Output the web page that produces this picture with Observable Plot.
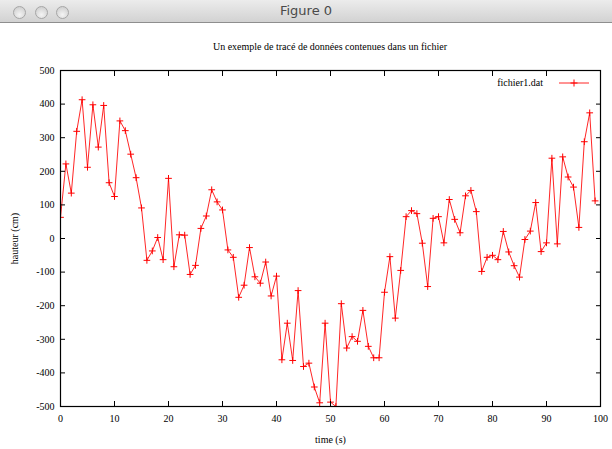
<!DOCTYPE html>
<html>
<head>
<meta charset="utf-8">
<script src="https://cdn.jsdelivr.net/npm/d3@7"></script>
<script src="https://cdn.jsdelivr.net/npm/@observablehq/plot@0.6"></script>
<style>
  html, body { margin: 0; padding: 0; background: #fff; }
  #page { position: relative; width: 612px; height: 449px; overflow: hidden; background: #fff; }
  #bar { position: absolute; left: 0; top: 0; width: 612px; height: 22px;
         background: linear-gradient(#ececec, #d2d2d2); border-bottom: 1px solid #8e8e8e; }
  #bar .btn { position: absolute; top: 6px; width: 13px; height: 13px; border-radius: 50%;
              background: radial-gradient(circle at 50% 70%, #f4f4f4, #c8c8c8); border: 1px solid #a6a6a6; box-sizing: border-box; }
  #bar .t { position: absolute; left: 0; width: 612px; top: 3px; text-align: center;
            font: 13px "DejaVu Sans", sans-serif; color: #4a4a4a; }
  #title { position: absolute; left: 60px; width: 540px; top: 41px; text-align: center;
           font: 10px "Liberation Serif", serif; color: #000; }
  #chart { position: absolute; left: 0; top: 24px; }
  #legend { position: absolute; top: 75px; left: 480px; width: 120px; height: 16px;
            font: 10px "Liberation Serif", serif; }
</style>
</head>
<body>
<div id="page">
  <div id="bar">
    <div class="btn" style="left:13px"></div>
    <div class="btn" style="left:35px"></div>
    <div class="btn" style="left:56px"></div>
    <div class="t">Figure 0</div>
  </div>
  <div id="title">Un exemple de tracé de données contenues dans un fichier</div>
  <div id="chart"></div>
  <div id="legend"></div>
</div>
<script>
const times = d3.range(0, 100);
const heights = [
  63, 222, 135, 319, 413, 212, 398, 272, 396, 166,
  125, 350, 321, 251, 181, 91, -65, -37, 3, -63,
  179, -84, 11, 10, -107, -80, 30, 67, 145, 109,
  85, -34, -56, -175, -139, -27, -114, -133, -70, -171,
  -112, -361, -252, -363, -155, -381, -371, -442, -489, -252,
  -487, -500, -194, -326, -292, -306, -214, -321, -355, -355,
  -160, -54, -237, -95, 65, 83, 74, -14, -143, 60,
  65, -13, 116, 57, 17, 127, 143, 80, -98, -56,
  -50, -63, 21, -40, -81, -115, -3, 22, 107, -39,
  -13, 239, -16, 243, 183, 153, 33, 288, 374, 112
];
const xTicks = [0, 10, 20, 30, 40, 50, 60, 70, 80, 90, 100];
const yTicks = [-500, -400, -300, -200, -100, 0, 100, 200, 300, 400, 500];
const seriesName = "fichier1.dat";
const xLabel = "time (s)";
const yLabel = "hauteur (cm)";

const data = times.map((t, i) => ({t, h: heights[i]}));
const red = "#ff0000";

const chart = Plot.plot({
  width: 612,
  height: 425,
  marginTop: 46,
  marginBottom: 43,
  marginLeft: 60,
  marginRight: 12,
  style: {fontFamily: "Liberation Serif, serif", fontSize: "10px", color: "#000", background: "transparent"},
  x: {domain: [0, 100]},
  y: {domain: [-500, 500]},
  marks: [
    Plot.line(data, {x: "t", y: "h", stroke: red, strokeWidth: 1, strokeOpacity: 0.85, clip: true}),
    Plot.dot(data, {x: "t", y: "h", symbol: "plus", r: 2.3, stroke: red, strokeWidth: 1, clip: true}),
    // inward ticks on all four sides
    Plot.axisX({anchor: "bottom", ticks: xTicks, tickSize: -5, tickFormat: () => "", label: null, stroke: "#000"}),
    Plot.axisX({anchor: "top", ticks: xTicks, tickSize: -5, tickFormat: () => "", label: null, stroke: "#000"}),
    Plot.axisY({anchor: "left", ticks: yTicks, tickSize: -5, tickFormat: () => "", label: null, stroke: "#000"}),
    Plot.axisY({anchor: "right", ticks: yTicks, tickSize: -5, tickFormat: () => "", label: null, stroke: "#000"}),
    // labels
    Plot.axisX({anchor: "bottom", ticks: xTicks, tickSize: 0, tickPadding: 8, tickFormat: d => String(d),
                label: xLabel, labelAnchor: "center", labelArrow: "none", labelOffset: 36, fill: "#000"}),
    Plot.axisY({anchor: "left", ticks: yTicks, tickSize: 0, tickPadding: 6, tickFormat: d => String(d),
                label: yLabel, labelAnchor: "center", labelArrow: "none", labelOffset: 50, fill: "#000"}),
    Plot.frame({stroke: "#000", strokeWidth: 1.2})
  ]
});
document.getElementById("chart").appendChild(chart);

// legend
const lg = d3.select("#legend").append("svg").attr("width", 120).attr("height", 16);
lg.append("text").attr("x", 63).attr("y", 11).attr("text-anchor", "end")
  .attr("font-family", "Liberation Serif, serif").attr("font-size", 10).text(seriesName);
lg.append("line").attr("x1", 79).attr("x2", 109).attr("y1", 8).attr("y2", 8)
  .attr("stroke", red).attr("stroke-opacity", 0.85);
lg.append("path").attr("d", "M90.5,8h7M94,4.5v7").attr("stroke", red).attr("fill", "none");
</script>
</body>
</html>
